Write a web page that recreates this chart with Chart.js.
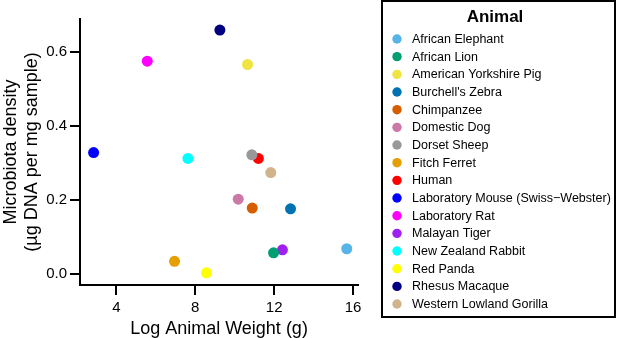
<!DOCTYPE html>
<html>
<head>
<meta charset="utf-8">
<script src="https://cdn.jsdelivr.net/npm/chart.js@4/dist/chart.umd.min.js"></script>
<style>
html,body{margin:0;padding:0;background:#fff;}
#wrap{width:617px;height:338px;position:relative;}
</style>
</head>
<body>
<div id="wrap"><canvas id="c" width="617" height="338"></canvas></div>
<script>
const animals = ["African Elephant","African Lion","American Yorkshire Pig","Burchell's Zebra","Chimpanzee","Domestic Dog","Dorset Sheep","Fitch Ferret","Human","Laboratory Mouse (Swiss\u2212Webster)","Laboratory Rat","Malayan Tiger","New Zealand Rabbit","Red Panda","Rhesus Macaque","Western Lowland Gorilla"];
const logWeight = [15.68, 11.97, 10.65, 12.83, 10.89, 10.18, 10.87, 6.95, 11.20, 2.85, 5.57, 12.42, 7.63, 8.57, 9.25, 11.83];
const density   = [0.068, 0.057, 0.566, 0.176, 0.178, 0.202, 0.322, 0.034, 0.312, 0.328, 0.575, 0.065, 0.312, 0.003, 0.659, 0.274];
const colors = ["#56B4E9","#009E73","#F0E442","#0072B2","#D55E00","#CC79A7","#999999","#E69F00","#FF0000","#0000FF","#FF00FF","#A020F0","#00FFFF","#FFFF00","#000080","#D2B48C"];
const xTicks = [4, 8, 12, 16];
const yTicks = [0, 0.2, 0.4, 0.6];
const legendTitle = "Animal";

const FONT = "'Liberation Sans', Arial, sans-serif";

const datasets = animals.map((a, i) => ({
  label: a,
  data: [{x: logWeight[i], y: density[i]}],
  backgroundColor: colors[i],
  borderWidth: 0,
  pointRadius: 5.5,
  pointHoverRadius: 5.5
}));

const boxLegend = {
  id: 'boxLegend',
  afterDraw(chart) {
    const ctx = chart.ctx;
    ctx.save();
    ctx.strokeStyle = '#000';
    ctx.lineWidth = 2;
    ctx.strokeRect(382, 1, 233, 316);
    ctx.fillStyle = '#000';
    ctx.font = "bold 17px " + FONT;
    ctx.textAlign = 'center';
    ctx.textBaseline = 'middle';
    ctx.fillText(legendTitle, 495, 17);
    ctx.font = "12.5px " + FONT;
    ctx.textAlign = 'left';
    chart.data.datasets.forEach((ds, i) => {
      const y = 39 + i * 17.67;
      ctx.beginPath();
      ctx.fillStyle = ds.backgroundColor;
      ctx.arc(397, y, 4.7, 0, Math.PI * 2);
      ctx.fill();
      ctx.fillStyle = '#000';
      ctx.fillText(ds.label, 412, y + 0.5);
    });
    ctx.restore();
  }
};

new Chart(document.getElementById('c'), {
  type: 'scatter',
  data: { datasets },
  plugins: [boxLegend],
  options: {
    responsive: false,
    animation: false,
    events: [],
    layout: { padding: { top: 19, right: 259, left: 0, bottom: 0 } },
    plugins: { legend: { display: false }, tooltip: { enabled: false } },
    scales: {
      x: {
        type: 'linear',
        min: 2.16, max: 16.25,
        afterBuildTicks: s => { s.ticks = xTicks.map(v => ({value: v})); },
        afterFit: s => { s.height = 53; },
        grid: { drawOnChartArea: false, drawTicks: true, tickLength: 10, color: '#000', lineWidth: 2 },
        border: { display: true, color: '#000', width: 2 },
        ticks: { color: '#000', font: { family: FONT, size: 15 }, padding: 4, maxRotation: 0,
                 callback: v => String(v) },
        title: { display: true, text: 'Log Animal Weight (g)', color: '#000',
                 font: { family: FONT, size: 18, lineHeight: 1 }, padding: { top: 0, bottom: 0 } }
      },
      y: {
        type: 'linear',
        min: -0.03, max: 0.689,
        afterBuildTicks: s => { s.ticks = yTicks.map(v => ({value: v})); },
        afterFit: s => { s.width = 80; },
        grid: { drawOnChartArea: false, drawTicks: true, tickLength: 10, color: '#000', lineWidth: 2 },
        border: { display: true, color: '#000', width: 2 },
        ticks: { color: '#000', font: { family: FONT, size: 15 }, padding: 3,
                 callback: v => Number(v).toFixed(1) },
        title: { display: true, text: ['Microbiota density', '(\u00b5g DNA per mg sample)'], color: '#000',
                 font: { family: FONT, size: 18, lineHeight: 1.2 }, padding: { top: 0, bottom: 0 } }
      }
    }
  }
});
</script>
</body>
</html>
